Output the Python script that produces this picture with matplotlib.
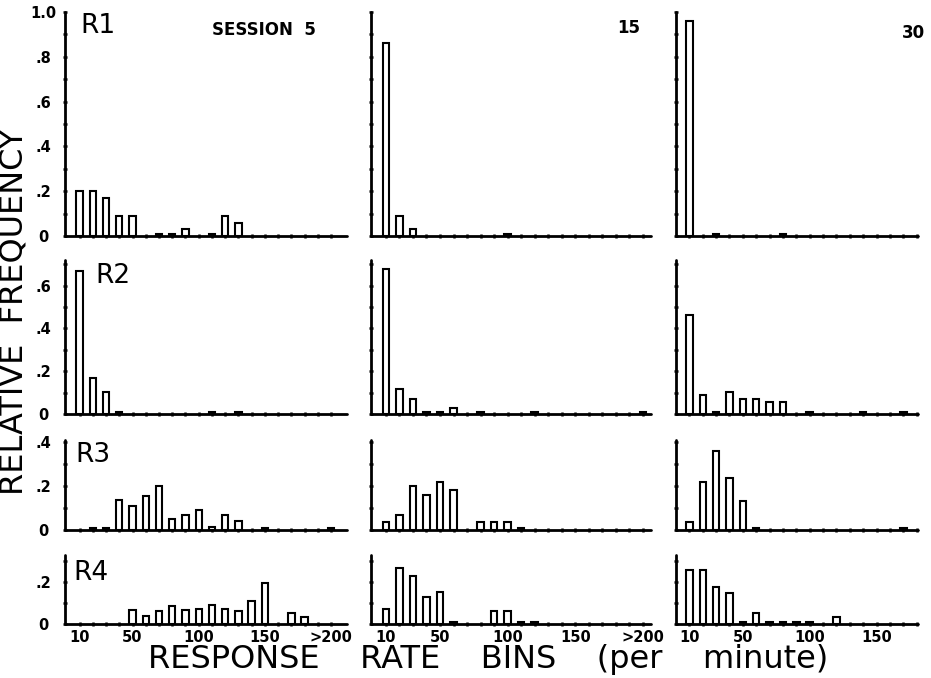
import matplotlib
matplotlib.use("Agg")
import matplotlib.pyplot as plt
from matplotlib.ticker import FixedLocator, MultipleLocator

# ---------------- data ----------------
bins = [10, 20, 30, 40, 50, 60, 70, 80, 90, 100,
        110, 120, 130, 140, 150, 160, 170, 180, 190, 200]
sessions = ["SESSION  5", "15", "30"]
row_labels = ["R1", "R2", "R3", "R4"]

#        10    20    30    40    50    60    70    80    90    100   110   120   130   140   150   160   170   180   190   200
r1_s5 = [0.20, 0.20, 0.17, 0.09, 0.09, 0.00, 0.01, 0.01, 0.03, 0.00, 0.01, 0.09, 0.06, 0.00, 0.00, 0.00, 0.00, 0.00, 0.00, 0.00]
r1_s15 = [0.86, 0.09, 0.03, 0.00, 0.00, 0.00, 0.00, 0.00, 0.00, 0.01, 0.00, 0.00, 0.00, 0.00, 0.00, 0.00, 0.00, 0.00, 0.00, 0.00]
r1_s30 = [0.96, 0.00, 0.01, 0.00, 0.00, 0.00, 0.00, 0.01, 0.00, 0.00, 0.00, 0.00, 0.00, 0.00, 0.00, 0.00, 0.00, 0.00, 0.00, 0.00]

r2_s5 = [0.67, 0.17, 0.105, 0.01, 0.00, 0.00, 0.00, 0.00, 0.00, 0.00, 0.01, 0.00, 0.01, 0.00, 0.00, 0.00, 0.00, 0.00, 0.00, 0.00]
r2_s15 = [0.68, 0.115, 0.07, 0.01, 0.01, 0.03, 0.00, 0.01, 0.00, 0.00, 0.00, 0.01, 0.00, 0.00, 0.00, 0.00, 0.00, 0.00, 0.00, 0.01]
r2_s30 = [0.465, 0.087, 0.01, 0.105, 0.068, 0.068, 0.058, 0.058, 0.00, 0.01, 0.00, 0.00, 0.00, 0.01, 0.00, 0.00, 0.01, 0.00, 0.00, 0.00]

r3_s5 = [0.00, 0.01, 0.01, 0.135, 0.11, 0.155, 0.20, 0.05, 0.07, 0.09, 0.015, 0.07, 0.04, 0.00, 0.01, 0.00, 0.00, 0.00, 0.00, 0.01]
r3_s15 = [0.035, 0.07, 0.20, 0.16, 0.22, 0.18, 0.00, 0.035, 0.035, 0.035, 0.01, 0.00, 0.00, 0.00, 0.00, 0.00, 0.00, 0.00, 0.00, 0.00]
r3_s30 = [0.035, 0.22, 0.36, 0.235, 0.13, 0.01, 0.00, 0.00, 0.00, 0.00, 0.00, 0.00, 0.00, 0.00, 0.00, 0.00, 0.01, 0.00, 0.00, 0.00]

r4_s5 = [0.00, 0.00, 0.00, 0.00, 0.067, 0.04, 0.06, 0.087, 0.067, 0.07, 0.09, 0.07, 0.06, 0.11, 0.197, 0.00, 0.054, 0.035, 0.00, 0.00]
r4_s15 = [0.07, 0.27, 0.23, 0.13, 0.155, 0.01, 0.00, 0.00, 0.06, 0.06, 0.01, 0.01, 0.00, 0.00, 0.00, 0.00, 0.00, 0.00, 0.00, 0.00]
r4_s30 = [0.26, 0.26, 0.175, 0.15, 0.01, 0.055, 0.01, 0.01, 0.01, 0.01, 0.00, 0.035, 0.00, 0.00, 0.00, 0.00, 0.00, 0.00, 0.00, 0.00]

x_ticks_wide = [10, 50, 100, 150, 200]
x_labels_wide = ["10", "50", "100", "150", ">200"]
x_ticks_narrow = [10, 50, 100, 150]
x_labels_narrow = ["10", "50", "100", "150"]

y_ticks_r1 = [0, 0.2, 0.4, 0.6, 0.8, 1.0]
y_labels_r1 = ["0", ".2", ".4", ".6", ".8", "1.0"]
y_ticks_r2 = [0, 0.2, 0.4, 0.6]
y_labels_r2 = ["0", ".2", ".4", ".6"]
y_ticks_r3 = [0, 0.2, 0.4]
y_labels_r3 = ["0", ".2", ".4"]
y_ticks_r4 = [0, 0.2]
y_labels_r4 = ["0", ".2"]

y_label = "RELATIVE  FREQUENCY"
x_label = "RESPONSE    RATE    BINS    (per    minute)"

# ---------------- layout ----------------
W, H = 931, 678
fig = plt.figure(figsize=(W / 100, H / 100), dpi=100)
fig.patch.set_facecolor("white")

grid = [[r1_s5, r1_s15, r1_s30],
        [r2_s5, r2_s15, r2_s30],
        [r3_s5, r3_s15, r3_s30],
        [r4_s5, r4_s15, r4_s30]]
y_tick_sets = [(y_ticks_r1, y_labels_r1), (y_ticks_r2, y_labels_r2),
               (y_ticks_r3, y_labels_r3), (y_ticks_r4, y_labels_r4)]

# (bottom px, top px, ymax)
row_geo = [(236, 12, 1.0), (414, 260, 0.72), (530, 440, 0.41), (624, 555, 0.33)]
# (left px, right px, xmin, xmax)
col_geo = [(65, 347, -1, 212), (371, 651, -1, 206), (676, 918, 0, 181)]
col_xticks = [(x_ticks_wide, x_labels_wide), (x_ticks_wide, x_labels_wide),
              (x_ticks_narrow, x_labels_narrow)]

tick_font = dict(family="DejaVu Sans", weight="bold", size=10.5)

for r in range(4):
    b, t, ymax = row_geo[r]
    for c in range(3):
        l, rr, xmin, xmax = col_geo[c]
        ax = fig.add_axes([l / W, 1 - b / H, (rr - l) / W, (b - t) / H])
        ax.patch.set_visible(False)
        vals = grid[r][c]
        xs = [x for x, v in zip(bins, vals) if v > 0]
        hs = [v for v in vals if v > 0]
        ax.bar(xs, hs, width=4.8, color="white", edgecolor="black",
               linewidth=1.5, zorder=3)
        ax.set_xlim(xmin, xmax)
        ax.set_ylim(0, ymax)
        for s in ("top", "right"):
            ax.spines[s].set_visible(False)
        for s in ("left", "bottom"):
            ax.spines[s].set_linewidth(2.0)
            ax.spines[s].set_capstyle("round")
        xt, xl = col_xticks[c]
        ax.set_xticks(xt)
        ax.xaxis.set_minor_locator(FixedLocator(bins))
        yt, yl = y_tick_sets[r]
        ax.set_yticks(yt)
        ax.yaxis.set_minor_locator(MultipleLocator(0.1))
        ax.tick_params(which="both", direction="inout", length=3, width=1.8,
                       colors="black")
        if r == 3:
            ax.set_xticklabels(xl, fontdict=tick_font)
            ax.tick_params(axis="x", pad=3)
        else:
            ax.set_xticklabels([])
        if c == 0:
            ax.set_yticklabels(yl, fontdict=tick_font)
            ax.tick_params(axis="y", pad=14)
            for lab in ax.get_yticklabels():
                lab.set_horizontalalignment("center")
        else:
            ax.set_yticklabels([])


def px(x, y):
    return x / W, 1 - y / H


label_font = dict(family="DejaVu Sans", weight="normal")

# row labels
r_pos = [(80, 33), (95, 283), (75, 462), (73, 580)]
for lab, (x, y) in zip(row_labels, r_pos):
    fig.text(*px(x, y), lab, fontsize=19, ha="left", va="baseline", **label_font)

# session labels
fig.text(*px(212, 35), sessions[0], fontsize=12, weight="bold", ha="left", va="baseline")
fig.text(*px(640, 33), sessions[1], fontsize=12, weight="bold", ha="right", va="baseline")
fig.text(*px(925, 38), sessions[2], fontsize=12, weight="bold", ha="right", va="baseline")

# axis labels
fig.text(*px(14, 312), y_label, fontsize=23, rotation=90, ha="center", va="center", **label_font)
fig.text(*px(488, 668), x_label, fontsize=23, ha="center", va="baseline", **label_font)

fig.savefig("out.png", dpi=100, facecolor="white")
